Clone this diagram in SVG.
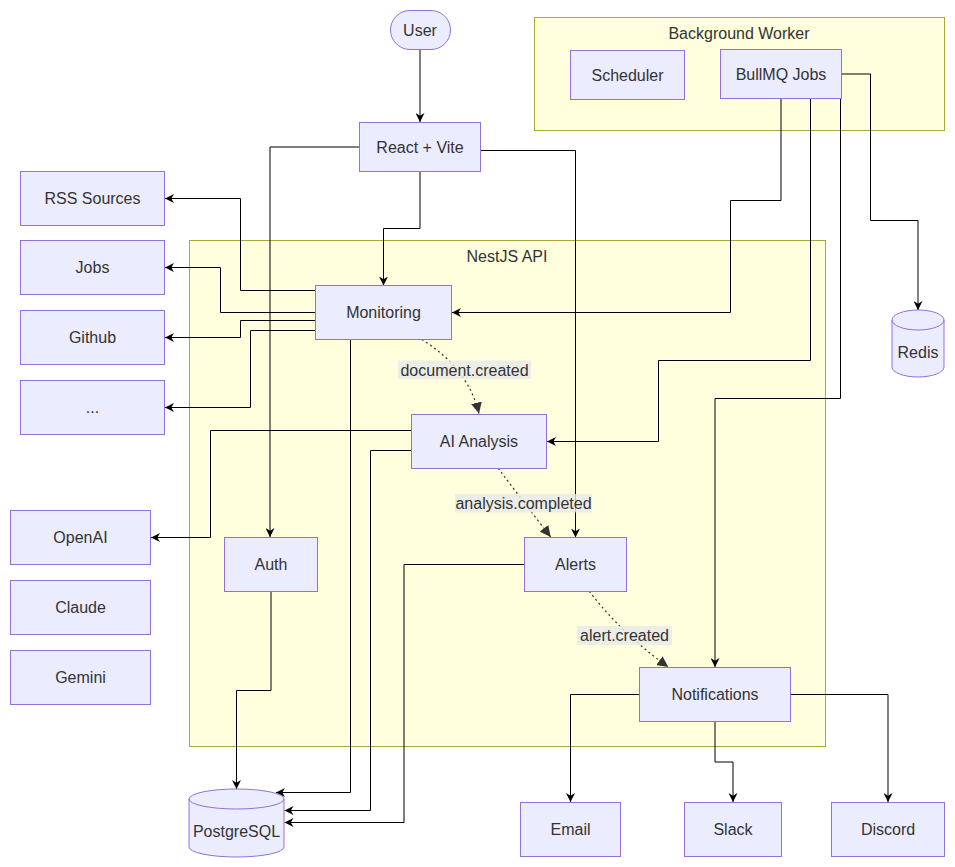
<svg xmlns="http://www.w3.org/2000/svg" width="955" height="867" viewBox="0 0 955 867">
<style>
text{font-family:"Liberation Sans",Arial,sans-serif;font-size:16px;fill:#333;text-anchor:middle;dominant-baseline:central}
.cluster{fill:#ffffde;stroke:#aaaa33;stroke-width:1}
.node{fill:#ececff;stroke:#9370db;stroke-width:1}
.e{fill:none;stroke:#000;stroke-width:1}
.d{fill:none;stroke:#333;stroke-width:1.2;stroke-dasharray:2 3}
.lbl{fill:rgba(232,232,232,0.8)}
</style>
<defs>
<marker id="a" viewBox="0 0 10 10" refX="10" refY="5" markerWidth="9" markerHeight="9" markerUnits="userSpaceOnUse" orient="auto">
<path d="M0,0 L10,5 L0,10 L3,5 z" fill="#000"/>
</marker>
<marker id="ad" viewBox="0 0 10 10" refX="10" refY="5" markerWidth="11" markerHeight="11" markerUnits="userSpaceOnUse" orient="auto">
<path d="M0,0 L10,5 L0,10 z" fill="#333"/>
</marker>
</defs>
<g id="clusters">
<g id="background-worker"><rect class="cluster" x="534.5" y="17.5" width="410" height="113"/><text x="739" y="33">Background Worker</text></g>
<g id="nestjs-api"><rect class="cluster" x="189.5" y="240.5" width="636" height="506"/><text x="507" y="256">NestJS API</text></g>
</g>
<g id="connectors">
<path class="e" d="M420,50 L420,122" marker-end="url(#a)"/>
<path class="e" d="M420,171.5 L420,228.5 L383.5,228.5 L383.5,285.5" marker-end="url(#a)"/>
<path class="e" d="M359.5,147 L270,147 L270,537" marker-end="url(#a)"/>
<path class="e" d="M480.5,150.5 L575.5,150.5 L575.5,537.5" marker-end="url(#a)"/>
<path class="e" d="M315.5,290.5 L240.5,290.5 L240.5,198.5 L165,198.5" marker-end="url(#a)"/>
<path class="e" d="M315.5,312.5 L220.5,312.5 L220.5,267.5 L165,267.5" marker-end="url(#a)"/>
<path class="e" d="M315.5,320.5 L240.5,320.5 L240.5,337.5 L165,337.5" marker-end="url(#a)"/>
<path class="e" d="M315.5,330.5 L250.5,330.5 L250.5,407.5 L165,407.5" marker-end="url(#a)"/>
<path class="e" d="M350.5,339.5 L350.5,792.5 L276,792.5" marker-end="url(#a)"/>
<path class="e" d="M411.5,430.5 L210.5,430.5 L210.5,537.5 L151,537.5" marker-end="url(#a)"/>
<path class="e" d="M411.5,450.5 L370.5,450.5 L370.5,810.5 L284.5,810.5" marker-end="url(#a)"/>
<path class="e" d="M524,564.5 L404,564.5 L404,822.5 L284.5,822.5" marker-end="url(#a)"/>
<path class="e" d="M271,591.5 L271,690.5 L236.5,690.5 L236.5,789" marker-end="url(#a)"/>
<path class="e" d="M781,98.5 L781,200.5 L730.5,200.5 L730.5,312.5 L452,312.5" marker-end="url(#a)"/>
<path class="e" d="M810.5,98.5 L810.5,360.5 L658.5,360.5 L658.5,441.5 L547,441.5" marker-end="url(#a)"/>
<path class="e" d="M840.5,98.5 L840.5,398.5 L715,398.5 L715,667" marker-end="url(#a)"/>
<path class="e" d="M842,74 L870.5,74 L870.5,220.5 L918,220.5 L918,310" marker-end="url(#a)"/>
<path class="e" d="M639.5,694.5 L570.5,694.5 L570.5,802" marker-end="url(#a)"/>
<path class="e" d="M715,721.5 L715,762 L733,762 L733,802" marker-end="url(#a)"/>
<path class="e" d="M790.5,694.5 L888,694.5 L888,802" marker-end="url(#a)"/>
<path class="d" d="M421.7,339.5 Q468,368 479,413.5" marker-end="url(#ad)"/>
<path class="d" d="M498.3,468.3 Q522,500 550.7,537" marker-end="url(#ad)"/>
<path class="d" d="M589.3,591.3 Q622,634 668.3,667" marker-end="url(#ad)"/>
<g id="edge-labels">
<rect class="lbl" x="398" y="360.5" width="133" height="18.5"/><text x="464.5" y="370">document.created</text>
<rect class="lbl" x="455" y="494" width="137" height="18.5"/><text x="523.5" y="503">analysis.completed</text>
<rect class="lbl" x="577" y="626" width="95" height="19"/><text x="624.5" y="635.5">alert.created</text>
</g>
</g>
<g id="user"><rect class="node" x="390.5" y="10.5" width="60" height="39" rx="19.5"/><text x="420" y="30">User</text></g>
<g id="react-vite"><rect class="node" x="359.5" y="122.5" width="121" height="49"/><text x="420" y="147">React + Vite</text></g>
<g id="scheduler"><rect class="node" x="570.5" y="50.5" width="114" height="49"/><text x="627.5" y="75">Scheduler</text></g>
<g id="bullmq"><rect class="node" x="720.5" y="49.5" width="121" height="49"/><text x="781" y="74">BullMQ Jobs</text></g>
<g id="redis"><path class="node" d="M892,320 a26,10 0 0 0 52,0 a26,10 0 0 0 -52,0 l0,47 a26,10 0 0 0 52,0 l0,-47"/><text x="918" y="352">Redis</text></g>
<g id="rss"><rect class="node" x="20.5" y="171.5" width="144" height="54"/><text x="92.5" y="198.5">RSS Sources</text></g>
<g id="jobs"><rect class="node" x="20.5" y="240.5" width="144" height="54"/><text x="92.5" y="267.5">Jobs</text></g>
<g id="github"><rect class="node" x="20.5" y="310.5" width="144" height="54"/><text x="92.5" y="337.5">Github</text></g>
<g id="more"><rect class="node" x="20.5" y="380.5" width="144" height="54"/><text x="92.5" y="407.5">...</text></g>
<g id="openai"><rect class="node" x="10.5" y="510.5" width="140" height="54"/><text x="80.5" y="537.5">OpenAI</text></g>
<g id="claude"><rect class="node" x="10.5" y="580.5" width="140" height="54"/><text x="80.5" y="607.5">Claude</text></g>
<g id="gemini"><rect class="node" x="10.5" y="650.5" width="140" height="54"/><text x="80.5" y="677.5">Gemini</text></g>
<g id="monitoring"><rect class="node" x="315.5" y="285.5" width="136" height="54"/><text x="383.5" y="312.5">Monitoring</text></g>
<g id="ai-analysis"><rect class="node" x="411.5" y="414.5" width="135" height="54"/><text x="479" y="441.5">AI Analysis</text></g>
<g id="auth"><rect class="node" x="224.5" y="537.5" width="93" height="54"/><text x="271" y="564.5">Auth</text></g>
<g id="alerts"><rect class="node" x="524.5" y="537.5" width="102" height="54"/><text x="575.5" y="564.5">Alerts</text></g>
<g id="notifications"><rect class="node" x="639.5" y="667.5" width="151" height="54"/><text x="715" y="694.5">Notifications</text></g>
<g id="postgresql"><path class="node" d="M189,799 a47.5,10 0 0 0 95,0 a47.5,10 0 0 0 -95,0 l0,48 a47.5,10 0 0 0 95,0 l0,-48"/><text x="236.5" y="831">PostgreSQL</text></g>
<g id="email"><rect class="node" x="520.5" y="802.5" width="100" height="54"/><text x="570.5" y="829.5">Email</text></g>
<g id="slack"><rect class="node" x="684.5" y="802.5" width="97" height="54"/><text x="733" y="829.5">Slack</text></g>
<g id="discord"><rect class="node" x="831.5" y="802.5" width="113" height="54"/><text x="888" y="829.5">Discord</text></g>
</svg>
